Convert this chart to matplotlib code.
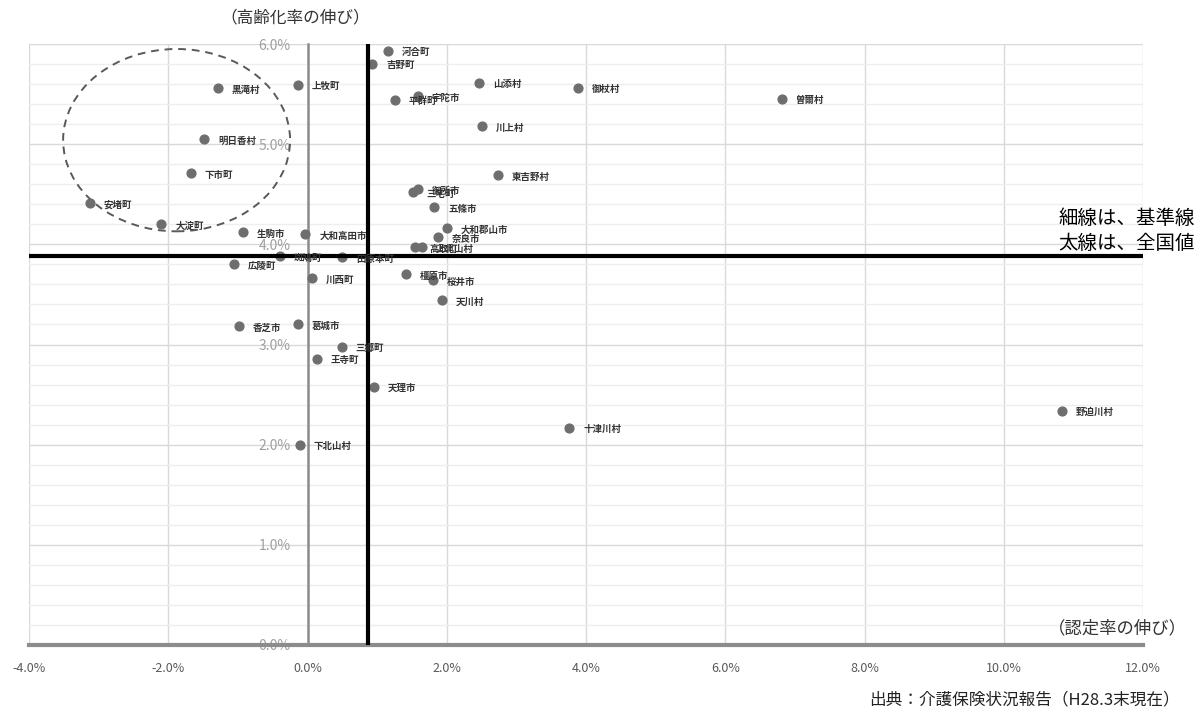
import matplotlib.pyplot as plt
import matplotlib.ticker as mticker
from matplotlib.patches import Ellipse

plt.rcParams['font.family'] = ['Noto Sans CJK JP', 'DejaVu Sans']

# 認定率の伸び (x, %) / 高齢化率の伸び (y, %)
names = ['河合町', '吉野町', '上牧町', '黒滝村', '山添村', '御杖村', '曽爾村', '平群町', '宇陀市',
         '川上村', '明日香村', '下市町', '東吉野村', '安堵町', '大淀町', '三宅町', '御所市', '五條市',
         '大和郡山市', '奈良市', '生駒市', '大和高田市', '高取町', '上北山村', '斑鳩町', '田原本町',
         '広陵町', '川西町', '橿原市', '桜井市', '天川村', '香芝市', '葛城市', '三郷町', '王寺町',
         '天理市', '十津川村', '野迫川村', '下北山村']
nintei = [1.16, 0.93, -0.14, -1.29, 2.46, 3.88, 6.82, 1.25, 1.58,
          2.50, -1.48, -1.68, 2.74, -3.13, -2.10, 1.51, 1.58, 1.82,
          2.00, 1.87, -0.93, -0.03, 1.55, 1.64, -0.39, 0.50,
          -1.06, 0.07, 1.42, 1.80, 1.93, -0.98, -0.14, 0.49, 0.13,
          0.95, 3.76, 10.83, -0.11]
koreika = [5.93, 5.80, 5.59, 5.56, 5.61, 5.56, 5.45, 5.44, 5.48,
           5.18, 5.05, 4.71, 4.69, 4.41, 4.20, 4.52, 4.55, 4.37,
           4.16, 4.07, 4.12, 4.10, 3.97, 3.97, 3.88, 3.87,
           3.80, 3.66, 3.70, 3.64, 3.44, 3.18, 3.20, 2.98, 2.86,
           2.58, 2.17, 2.34, 2.00]

# 全国値
national_x = 0.87
national_y = 3.88

x_ticks = [-4, -2, 0, 2, 4, 6, 8, 10, 12]
y_ticks = [0, 1, 2, 3, 4, 5, 6]

fig = plt.figure(figsize=(11.99, 7.19), dpi=100)
ax = fig.add_axes([29 / 1199, 1 - 645 / 719, 1114 / 1199, 601 / 719])
ax.set_xlim(-4, 12)
ax.set_ylim(0, 6)

ax.set_xticks(x_ticks)
ax.set_yticks(y_ticks)
ax.yaxis.set_minor_locator(mticker.MultipleLocator(0.2))
ax.xaxis.set_major_formatter(mticker.FuncFormatter(lambda v, p: f"{v:.1f}%"))
ax.yaxis.set_major_formatter(mticker.FuncFormatter(lambda v, p: f"{v:.1f}%"))
ax.grid(which='major', color='#d9d9d9', lw=1)
ax.grid(which='minor', axis='y', color='#eeeeee', lw=1)
ax.set_axisbelow(True)

for s in ['top', 'right']:
    ax.spines[s].set_visible(False)
ax.spines['left'].set_position(('data', 0))
ax.spines['left'].set_color('#8c8c8c')
ax.spines['left'].set_linewidth(1.8)
ax.spines['bottom'].set_color('#8c8c8c')
ax.spines['bottom'].set_linewidth(3)
ax.tick_params(axis='x', length=0, pad=12, labelsize=9, labelcolor='#595959')
ax.tick_params(axis='y', which='both', length=0, pad=12, labelsize=10, labelcolor='#a0a0a0')

ax.axvline(national_x, color='black', lw=3, zorder=4)
ax.axhline(national_y, color='black', lw=3, zorder=4)

ax.scatter(nintei, koreika, s=40, color='#6e6e6e', zorder=3, clip_on=False)
for n, x, y in zip(names, nintei, koreika):
    ax.annotate(n, (x, y), xytext=(10, -1), textcoords='offset points', ha='left', va='center',
                fontsize=6.8, color='#333333', fontweight='bold', zorder=5)

ax.add_patch(Ellipse((-1.88, 5.04), 3.26, 1.82, fill=False, ls=(0, (4, 3)), lw=1.4,
                     color='#595959', zorder=2))

fig.text(295 / 1199, 1 - 18 / 719, '（高齢化率の伸び）', ha='center', va='center', fontsize=12, color='#333333')
fig.text(1117 / 1199, 1 - 628 / 719, '（認定率の伸び）', ha='center', va='center', fontsize=12.5, color='#333333')
fig.text(1195 / 1199, 1 - 218 / 719, '細線は、基準線', ha='right', va='center', fontsize=14, color='black')
fig.text(1195 / 1199, 1 - 243 / 719, '太線は、全国値', ha='right', va='center', fontsize=14, color='black')
fig.text(1180 / 1199, 1 - 700 / 719, '出典：介護保険状況報告（H28.3末現在）', ha='right', va='center',
         fontsize=12, color='#222222')

fig.savefig('out.png', dpi=100)
